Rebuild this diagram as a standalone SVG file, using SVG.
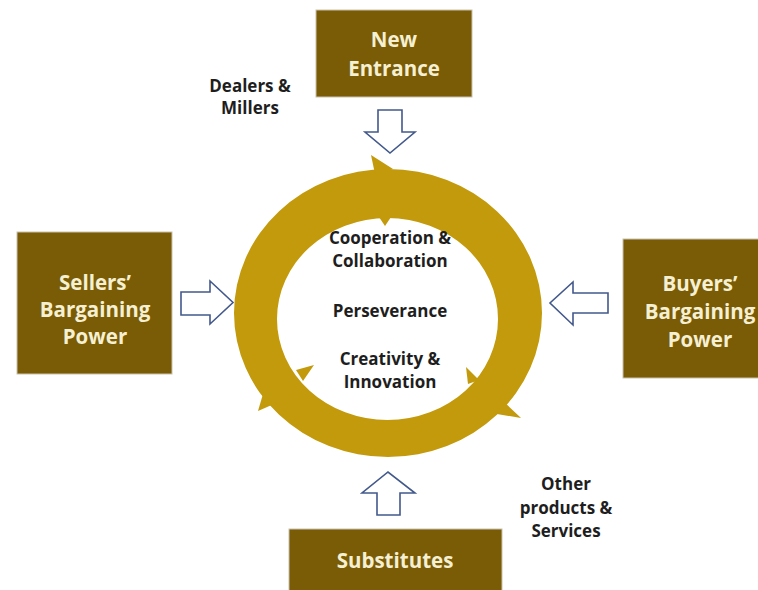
<svg xmlns="http://www.w3.org/2000/svg" width="758" height="590" viewBox="0 0 758 590">
  <style>
    .box { fill: #7a5b06; stroke: #c9c2ae; stroke-width: 1; }
    .boxtxt { font-family: "Open Sans", "Liberation Sans", sans-serif; font-weight: 700; font-size: 20.5px; fill: #f6f0d2; text-anchor: middle; }
    .lbl { font-family: "Open Sans", "Liberation Sans", sans-serif; font-weight: 700; font-size: 17px; fill: #1e1e1e; text-anchor: middle; }
    .ring { fill: #c39a0b; }
    .arrow { fill: #ffffff; stroke: #43598c; stroke-width: 1.6; stroke-linejoin: miter; }
  </style>

  <rect width="758" height="590" fill="#ffffff"/>

  <!-- central cycle ring with arrowhead barbs -->
  <g id="cycle">
    <path class="ring" fill-rule="evenodd"
      d="M234,313 A154,144 0 1,0 542,313 A154,144 0 1,0 234,313 Z
         M277,319 A110.5,101 0 1,0 498,319 A110.5,101 0 1,0 277,319 Z"/>
    <!-- top arrowhead barbs -->
    <polygon class="ring" points="371,155 375,174 393,169"/>
    <polygon class="ring" points="379,217 391,217 385,226"/>
    <!-- lower-right arrowhead barbs -->
    <polygon class="ring" points="503,401 521,418 497,414"/>
    <polygon class="ring" points="466,367 479,380 468,384"/>
    <!-- lower-left arrowhead barbs -->
    <polygon class="ring" points="263,394 274,404 258,411"/>
    <polygon class="ring" points="296,370 314,365 303,381"/>
    <text class="lbl" x="390" y="244">Cooperation &amp;</text>
    <text class="lbl" x="390" y="267">Collaboration</text>
    <text class="lbl" x="390" y="317">Perseverance</text>
    <text class="lbl" x="390" y="365">Creativity &amp;</text>
    <text class="lbl" x="390" y="388">Innovation</text>
  </g>

  <g id="new-entrance">
    <rect class="box" x="316" y="10" width="156" height="87"/>
    <text class="boxtxt" x="394" y="47">New</text>
    <text class="boxtxt" x="394" y="76">Entrance</text>
  </g>

  <g id="sellers">
    <rect class="box" x="17" y="232" width="155" height="142"/>
    <text class="boxtxt" x="95" y="290">Sellers’</text>
    <text class="boxtxt" x="95" y="317">Bargaining</text>
    <text class="boxtxt" x="95" y="344">Power</text>
  </g>

  <g id="buyers">
    <rect class="box" x="623" y="239" width="140" height="139"/>
    <text class="boxtxt" x="700" y="291">Buyers’</text>
    <text class="boxtxt" x="700" y="319">Bargaining</text>
    <text class="boxtxt" x="700" y="347">Power</text>
  </g>

  <g id="substitutes">
    <rect class="box" x="289" y="529" width="213" height="70"/>
    <text class="boxtxt" x="395" y="568">Substitutes</text>
  </g>

  <g id="dealers-note">
    <text class="lbl" x="250" y="92">Dealers &amp;</text>
    <text class="lbl" x="250" y="114">Millers</text>
  </g>

  <g id="other-note">
    <text class="lbl" x="566" y="490">Other</text>
    <text class="lbl" x="566" y="514">products &amp;</text>
    <text class="lbl" x="566" y="537">Services</text>
  </g>

  <!-- block arrows pointing toward the cycle -->
  <g id="connectors">
    <polygon class="arrow" points="378,110 402,110 402,132 415,132 390,153 365,132 378,132"/>
    <polygon class="arrow" points="181,292 210,292 210,281 233,302.5 210,324 210,315 181,315"/>
    <polygon class="arrow" points="608,293 573,293 573,282 550,303 573,325 573,313 608,313"/>
    <polygon class="arrow" points="377,515 377,493 362,493 388,472 415,493 400,493 400,515"/>
  </g>
</svg>
